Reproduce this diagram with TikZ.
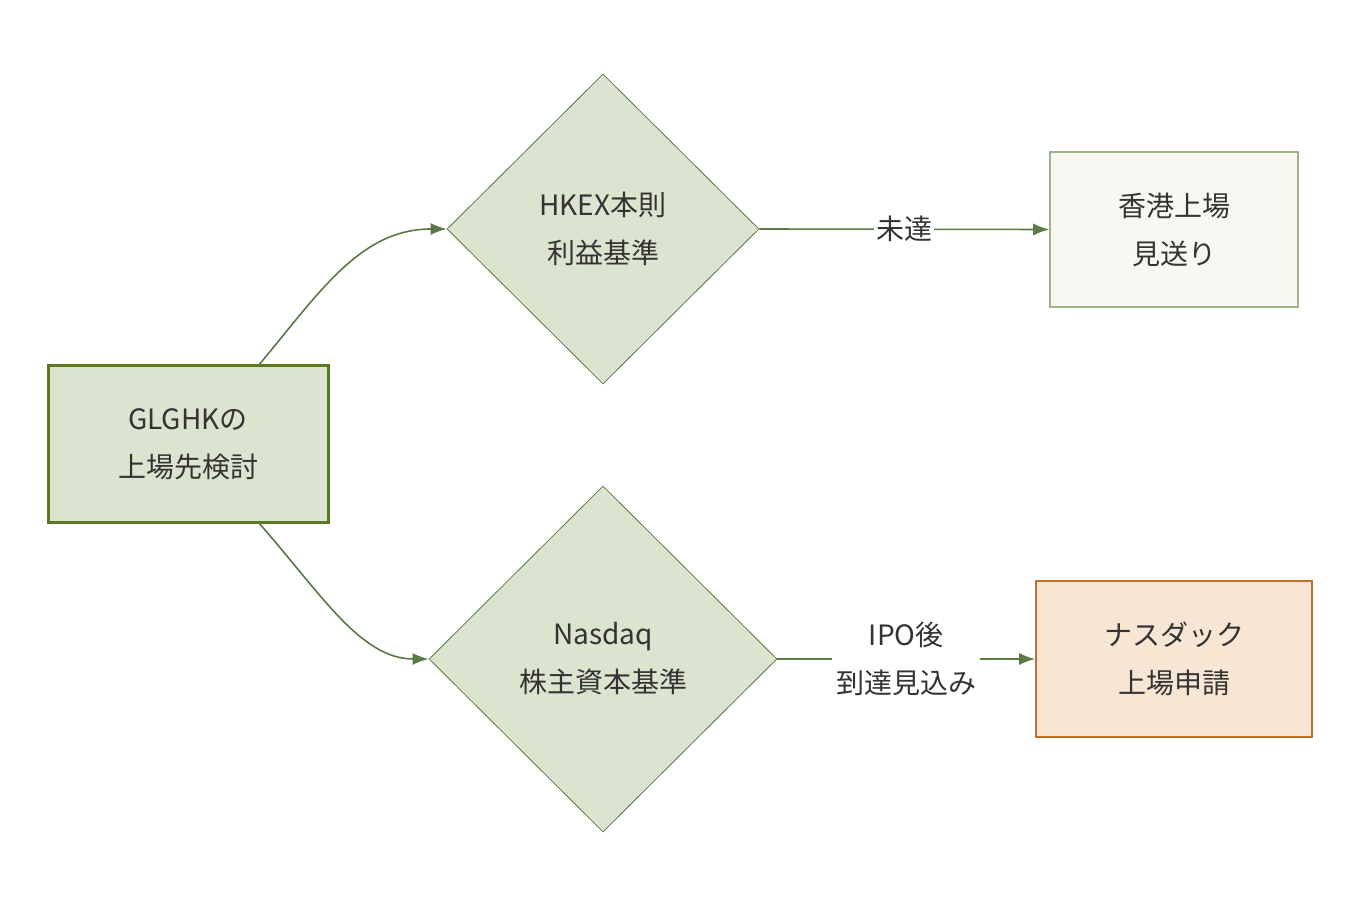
\documentclass[tikz,border=0pt]{standalone}
\usepackage{fontspec}
\setmainfont{Noto Sans CJK JP}
\usetikzlibrary{shapes.geometric,arrows.meta}
\definecolor{gfill}{HTML}{DCE4CF}
\definecolor{gline}{HTML}{5A7A45}
\definecolor{sline}{HTML}{5A7A1E}
\definecolor{pfill}{HTML}{F7F8F1}
\definecolor{pline}{HTML}{9DB38A}
\definecolor{ofill}{HTML}{F6E6D3}
\definecolor{oline}{HTML}{C0702A}
\definecolor{txt}{HTML}{333333}
\tikzset{
  every node/.style={text=txt, font=\fontsize{14}{24}\selectfont, align=center},
  box/.style={rectangle, inner sep=0pt},
  dec/.style={diamond, draw=gline, fill=gfill, inner sep=0pt},
  link/.style={draw=gline, thick, -{Latex[length=8pt,width=6pt]}},
}
\begin{document}
\begin{tikzpicture}[x=0.5pt,y=0.5pt]
\useasboundingbox (0,0) rectangle (1360,912);

\node [box, draw=sline, line width=1.5pt, fill=gfill, minimum width=140pt, minimum height=78pt] (start) at (188,468) {GLGHKの\\上場先検討};
\node [dec, minimum width=156pt, minimum height=155pt] (hkex) at (603,683) {HKEX本則\\利益基準};
\node [dec, minimum width=174pt, minimum height=173pt] (nasdaq) at (603,253) {Nasdaq\\株主資本基準};
\node [box, draw=pline, thick, fill=pfill, minimum width=124pt, minimum height=77.5pt] (skip) at (1174,682.5) {香港上場\\見送り};
\node [box, draw=oline, thick, fill=ofill, minimum width=138pt, minimum height=78pt] (apply) at (1174,253) {ナスダック\\上場申請};

% 分岐
\draw [link] (258,546) .. controls (320,620) and (360,683) .. (hkex.west);
\draw [link] (258,390) .. controls (320,320) and (360,253) .. (nasdaq.west);

\draw [link] (hkex.east) -- node [fill=white, inner sep=1pt] {未達} (skip.west);
\draw [link] (nasdaq.east) -- node [fill=white, inner sep=2pt] {IPO後\\到達見込み} (apply.west);
\end{tikzpicture}
\end{document}
